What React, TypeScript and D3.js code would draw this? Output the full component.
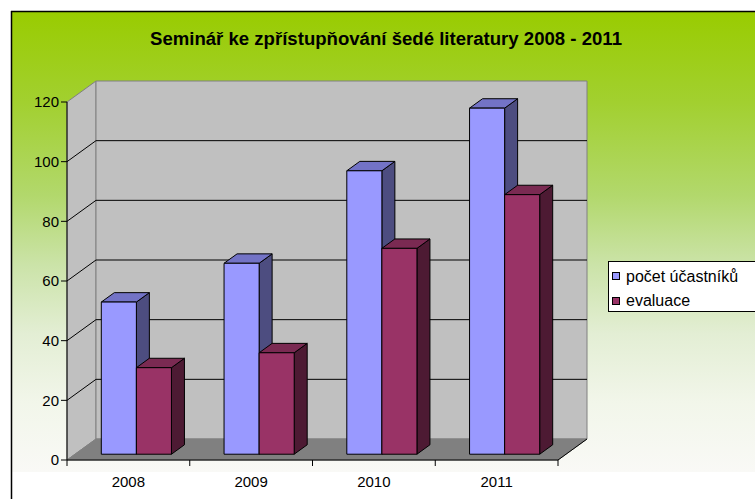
import React from "react";
import * as d3 from "d3";

const categories = ["2008", "2009", "2010", "2011"];
const seriesNames = ["počet účastníků", "evaluace"];
const ucastnici = [51, 64, 95, 116];
const evaluace = [29, 34, 69, 87];
const yTicks = [0, 20, 40, 60, 80, 100, 120];
const titleText = "Seminář ke zpřístupňování šedé literatury 2008 - 2011";

const W = 755;
const H = 499;
const FONT = "'Liberation Sans', Arial, sans-serif";

const X0 = 67;
const X1 = 558;
const Y0 = 460;
const YT = 102;
const DX = 29;
const DY = 21;
const BAR_D0 = 0.276;
const BAR_D1 = 0.724;

const colors = [
  { front: "#9999ff", top: "#7373c6", side: "#4d4d80" },
  { front: "#993366", top: "#7a2a52", side: "#4d1a33" },
];

export default function App() {
  const x = d3.scaleBand<string>().domain(categories).range([X0, X1]).paddingInner(0).paddingOuter(0);
  const inner = d3
    .scaleBand<string>()
    .domain(seriesNames)
    .range([0, x.step()])
    .paddingInner(0)
    .paddingOuter(0.75);
  const y = d3.scaleLinear().domain([0, 120]).range([Y0, YT]);

  const P = (px: number, v: number, d: number) => [px + d * DX, y(v) - d * DY] as [number, number];
  const poly = (pts: [number, number][]) => pts.map((p) => p.join(",")).join(" ");

  const data = [ucastnici, evaluace];

  const bars: React.ReactNode[] = [];
  categories.forEach((c, ci) => {
    seriesNames.forEach((s, si) => {
      const v = data[si][ci];
      const xl = (x(c) as number) + (inner(s) as number);
      const xr = xl + inner.bandwidth();
      const col = colors[si];
      bars.push(
        <g key={c + s}>
          <polygon
            points={poly([P(xr, 0, BAR_D0), P(xr, v, BAR_D0), P(xr, v, BAR_D1), P(xr, 0, BAR_D1)])}
            fill={col.side}
            stroke="#000"
            strokeWidth={1}
            strokeLinejoin="round"
          />
          <polygon
            points={poly([P(xl, v, BAR_D0), P(xr, v, BAR_D0), P(xr, v, BAR_D1), P(xl, v, BAR_D1)])}
            fill={col.top}
            stroke="#000"
            strokeWidth={1}
            strokeLinejoin="round"
          />
          <polygon
            points={poly([P(xl, 0, BAR_D0), P(xl, v, BAR_D0), P(xr, v, BAR_D0), P(xr, 0, BAR_D0)])}
            fill={col.front}
            stroke="#000"
            strokeWidth={1}
            strokeLinejoin="round"
          />
        </g>
      );
    });
  });

  return (
    <svg width={W} height={H} style={{ position: "absolute", left: 0, top: 0, display: "block" }}>
      <defs>
        <linearGradient id="bg" x1="0" y1="0" x2="0" y2="1">
          <stop offset="0" stopColor="#99cc00" />
          <stop offset="0.2" stopColor="#a2d030" />
          <stop offset="0.4" stopColor="#b2d86c" />
          <stop offset="0.55" stopColor="#cbe3a8" />
          <stop offset="0.7" stopColor="#e3eed4" />
          <stop offset="0.85" stopColor="#f2f6ea" />
          <stop offset="1" stopColor="#f9f9f6" />
        </linearGradient>
      </defs>
      <rect x={0} y={0} width={W} height={H} fill="#fff" />
      <rect x={11} y={11} width={W - 11} height={472 - 11} fill="url(#bg)" />
      <line x1={11} y1={11.5} x2={W} y2={11.5} stroke="#000" strokeWidth={1.5} />
      <line x1={11.5} y1={11} x2={11.5} y2={H} stroke="#000" strokeWidth={1.5} />

      <text
        x={386}
        y={45}
        textAnchor="middle"
        fontFamily={FONT}
        fontWeight="bold"
        fontSize={18}
        textLength={472}
        lengthAdjust="spacingAndGlyphs"
        fill="#000"
      >
        {titleText}
      </text>

      {/* left wall */}
      <polygon points={poly([P(X0, 0, 0), P(X0, 120, 0), P(X0, 120, 1), P(X0, 0, 1)])} fill="#c0c0c0" stroke="#808080" strokeWidth={1} />
      {/* back wall */}
      <polygon points={poly([P(X0, 0, 1), P(X0, 120, 1), P(X1, 120, 1), P(X1, 0, 1)])} fill="#c0c0c0" stroke="#808080" strokeWidth={1} />
      {/* floor */}
      <polygon points={poly([P(X0, 0, 0), P(X1, 0, 0), P(X1, 0, 1), P(X0, 0, 1)])} fill="#808080" stroke="#808080" strokeWidth={1} />
      <line x1={X1} y1={Y0} x2={X1 + DX} y2={Y0 - DY} stroke="#000" strokeWidth={1} />

      {/* gridlines */}
      {yTicks
        .filter((t) => t > 0 && t < 120)
        .map((t) => (
          <g key={"g" + t}>
            <line x1={X0} y1={y(t)} x2={X0 + DX} y2={y(t) - DY} stroke="#000" strokeWidth={1} />
            <line x1={X0 + DX} y1={y(t) - DY} x2={X1 + DX} y2={y(t) - DY} stroke="#000" strokeWidth={1} />
          </g>
        ))}

      {bars}

      {/* y axis */}
      <line x1={X0} y1={Y0} x2={X0} y2={YT} stroke="#000" strokeWidth={1} />
      {yTicks.map((t) => (
        <g key={"y" + t}>
          <line x1={X0 - 6} y1={y(t)} x2={X0} y2={y(t)} stroke="#000" strokeWidth={1} />
          <text x={X0 - 8} y={y(t)} dy="0.36em" textAnchor="end" fontFamily={FONT} fontSize={15} fill="#000">
            {t}
          </text>
        </g>
      ))}

      {/* x axis */}
      <line x1={X0} y1={Y0} x2={X1} y2={Y0} stroke="#000" strokeWidth={1} />
      {d3.range(categories.length + 1).map((i) => {
        const px = X0 + i * x.step();
        return <line key={"xt" + i} x1={px} y1={Y0} x2={px} y2={Y0 + 6} stroke="#000" strokeWidth={1} />;
      })}
      {categories.map((c) => (
        <text
          key={"xl" + c}
          x={(x(c) as number) + x.bandwidth() / 2}
          y={487}
          textAnchor="middle"
          fontFamily={FONT}
          fontSize={15}
          fill="#000"
        >
          {c}
        </text>
      ))}

      {/* legend */}
      <rect x={608.5} y={261.5} width={W} height={50} fill="#fff" stroke="#000" strokeWidth={1} />
      {seriesNames.map((s, i) => (
        <g key={"lg" + s}>
          <rect x={612.5} y={272.5 + i * 25} width={7} height={7} fill={colors[i].front} stroke="#000" strokeWidth={1} />
          <text x={626} y={282 + i * 24} fontFamily={FONT} fontSize={16} fill="#000">
            {s}
          </text>
        </g>
      ))}
    </svg>
  );
}
